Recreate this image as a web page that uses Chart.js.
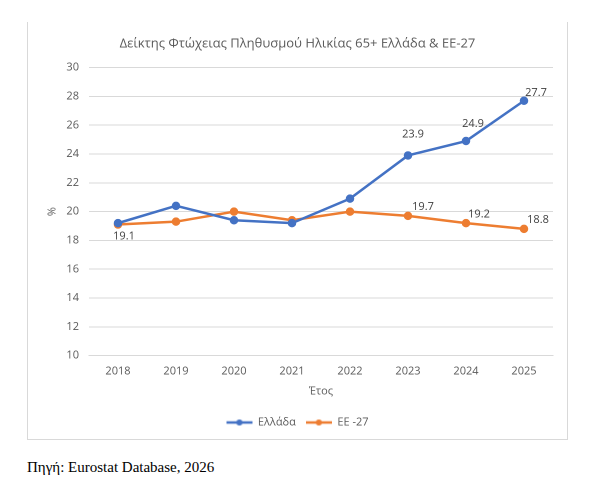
<!DOCTYPE html>
<html lang="el">
<head>
<meta charset="utf-8">
<script src="https://cdn.jsdelivr.net/npm/chart.js@4.4.1/dist/chart.umd.min.js"></script>
<style>
    html, body { margin: 0; padding: 0; background: #fff; }
    body { width: 600px; height: 492px; position: relative; overflow: hidden; }
    #box {
        position: absolute; left: 27px; top: 22px; width: 539px; height: 417px;
        border-left: 1px solid #d9d9d9; border-right: 1px solid #d9d9d9; border-bottom: 1px solid #d9d9d9;
    }
    #source {
        position: absolute; left: 27px; top: 459px;
        font-family: "Liberation Serif", "DejaVu Serif", serif; font-size: 15px; color: #000;
    }
</style>
</head>
<body>
<div id="box"><canvas id="poverty-chart"></canvas></div>
<div id="source">Πηγή: Eurostat Database, 2026</div>
<script>
const years = ['2018', '2019', '2020', '2021', '2022', '2023', '2024', '2025'];
const greece = [19.2, 20.4, 19.4, 19.2, 20.9, 23.9, 24.9, 27.7];
const eu27 = [19.1, 19.3, 20.0, 19.4, 20.0, 19.7, 19.2, 18.8];
const seriesNames = ['Ελλάδα', 'ΕΕ -27'];
const yTicks = [10, 12, 14, 16, 18, 20, 22, 24, 26, 28, 30];

const BLUE = '#4472c4';
const ORANGE = '#ed7d31';
const FONT = '"Open Sans", "Noto Sans", sans-serif';

// which points carry a value label, and where it sits relative to the marker
const valueLabels = [
    { ds: 1, i: 0, dx: 6, dy: 12 },
    { ds: 0, i: 5, dx: 5, dy: -21 },
    { ds: 0, i: 6, dx: 7, dy: -17 },
    { ds: 0, i: 7, dx: 12, dy: -8 },
    { ds: 1, i: 5, dx: 15, dy: -9 },
    { ds: 1, i: 6, dx: 13, dy: -9 },
    { ds: 1, i: 7, dx: 14, dy: -9 },
];

function legendSwatch(color) {
    const c = document.createElement('canvas');
    c.width = 26;
    c.height = 8;
    const ctx = c.getContext('2d');
    ctx.strokeStyle = color;
    ctx.lineWidth = 2.5;
    ctx.beginPath();
    ctx.moveTo(0, 4);
    ctx.lineTo(26, 4);
    ctx.stroke();
    ctx.fillStyle = color;
    ctx.beginPath();
    ctx.arc(13, 4, 3, 0, Math.PI * 2);
    ctx.fill();
    return c;
}

const swatches = [legendSwatch(BLUE), legendSwatch(ORANGE)];

const valueLabelPlugin = {
    id: 'valueLabels',
    afterDatasetsDraw(chart) {
        const ctx = chart.ctx;
        ctx.save();
        ctx.font = '11px ' + FONT;
        ctx.fillStyle = '#404040';
        ctx.textAlign = 'center';
        ctx.textBaseline = 'middle';
        valueLabels.forEach((l) => {
            const pt = chart.getDatasetMeta(l.ds).data[l.i];
            const v = chart.data.datasets[l.ds].data[l.i];
            ctx.fillText(v.toFixed(1), pt.x + l.dx, pt.y + l.dy);
        });
        ctx.restore();
    },
};

function lineDataset(label, data, color) {
    return {
        label,
        data,
        borderColor: color,
        backgroundColor: color,
        borderWidth: 2.5,
        pointRadius: 3,
        pointHoverRadius: 3,
        pointBackgroundColor: color,
        pointBorderColor: color,
        tension: 0,
    };
}

new Chart(document.getElementById('poverty-chart'), {
    type: 'line',
    data: {
        labels: years,
        datasets: [
            lineDataset(seriesNames[0], greece, BLUE),
            lineDataset(seriesNames[1], eu27, ORANGE),
        ],
    },
    plugins: [valueLabelPlugin],
    options: {
        responsive: true,
        maintainAspectRatio: false,
        animation: false,
        devicePixelRatio: 2,
        layout: { padding: { left: 14, right: 14, top: 0, bottom: 1 } },
        plugins: {
            title: {
                display: true,
                text: 'Δείκτης Φτώχειας Πληθυσμού Ηλικίας 65+ Ελλάδα & ΕΕ-27',
                color: '#595959',
                font: { family: FONT, size: 13, weight: 'normal' },
                padding: { top: 14, bottom: 16 },
            },
            legend: {
                position: 'bottom',
                labels: {
                    color: '#595959',
                    font: { family: FONT, size: 11 },
                    usePointStyle: true,
                    pointStyleWidth: 26,
                    padding: 10,
                    generateLabels(chart) {
                        return Chart.defaults.plugins.legend.labels.generateLabels(chart).map((item, idx) => ({
                            ...item,
                            pointStyle: swatches[idx],
                        }));
                    },
                },
            },
            tooltip: { enabled: false },
        },
        scales: {
            x: {
                offset: true,
                grid: { display: false, drawTicks: false, offset: true },
                border: { display: true, color: '#d9d9d9' },
                ticks: { color: '#595959', font: { family: FONT, size: 11 }, padding: 9 },
                title: {
                    display: true,
                    text: 'Έτος',
                    color: '#595959',
                    font: { family: FONT, size: 11 },
                    padding: { top: -2, bottom: 9 },
                },
            },
            y: {
                min: yTicks[0],
                max: yTicks[yTicks.length - 1],
                afterBuildTicks(scale) {
                    scale.ticks = yTicks.map((v) => ({ value: v }));
                },
                afterFit(scale) {
                    scale.width = 47;
                },
                grid: { color: '#d9d9d9', drawTicks: false },
                border: { display: false },
                ticks: { color: '#595959', font: { family: FONT, size: 11 }, padding: 10 },
                title: {
                    display: true,
                    text: '%',
                    color: '#595959',
                    font: { family: FONT, size: 11 },
                    padding: 4,
                },
            },
        },
    },
});
</script>
</body>
</html>
